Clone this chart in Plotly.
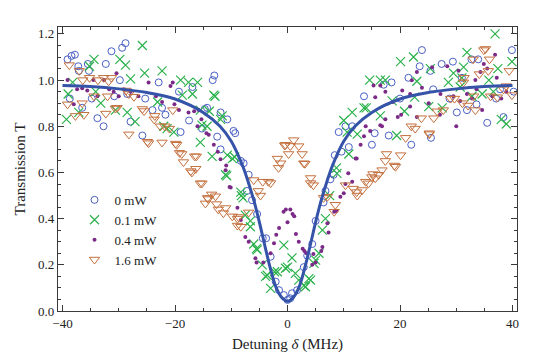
#####################
# REQUIRED MODULES  #
#####################
import plotly.graph_objects as go

#####################
# Global Variables  #
#####################

# (detuning in MHz, transmission)
pts_0mw = [(-39.1, 1.09), (-38.4, 1.105), (-37.8, 1.11), (-37.2, 1.06), (-37.1, 1.04), (-38.7, 0.92),
           (-36.5, 0.88), (-35.5, 1.07), (-35.3, 1.04), (-34.8, 0.92), (-33.8, 0.835), (-32.7, 0.80),
           (-32.3, 1.07), (-31.3, 1.125), (-29.4, 1.14), (-28.8, 1.16), (-30.8, 0.93), (-29.8, 1.0),
           (-28.5, 0.94), (-27.9, 0.82), (-25.8, 0.76), (-25.3, 0.92), (-24.0, 0.87), (-22.9, 0.99),
           (-22.3, 0.88), (-21.7, 0.85), (-19.0, 0.775), (-19.3, 0.95), (-17.5, 0.825), (-16.9, 0.97),
           (-15.2, 0.79), (-14.7, 0.875), (-13.3, 1.0), (-13.0, 1.02), (-14.3, 0.88), (-11.9, 0.86),
           (-10.7, 0.83), (-9.6, 0.78), (-9.3, 0.77), (-11.9, 0.70), (-12.5, 0.755), (-8.3, 0.65),
           (-7.8, 0.64), (-6.9, 0.59), (-7.2, 0.52), (-6.3, 0.48), (-5.4, 0.42), (-4.4, 0.315),
           (-3.8, 0.315), (-3.0, 0.235), (-2.1, 0.127), (-1.5, 0.09), (-0.65, 0.069), (0.0, 0.048),
           (0.5, 0.055), (0.8, 0.077), (1.7, 0.09), (2.9, 0.19), (3.5, 0.24), (4.4, 0.29), (5.0, 0.39),
           (6.4, 0.47), (6.75, 0.52), (7.6, 0.57), (8.2, 0.59), (8.4, 0.675), (9.1, 0.775), (9.6, 0.69),
           (10.3, 0.80), (10.9, 0.71), (11.5, 0.80), (13.6, 0.93), (15.0, 0.72), (15.5, 0.77),
           (18.0, 0.76), (17.1, 0.98), (18.5, 0.99), (21.5, 1.01), (22.0, 0.72), (23.5, 1.06),
           (23.9, 1.13), (20.0, 0.92), (25.4, 1.04), (27.4, 1.07), (29.4, 1.08), (25.9, 0.96),
           (28.8, 0.92), (30.1, 0.86), (25.5, 0.75), (31.0, 1.01), (32.7, 1.09), (33.9, 1.09),
           (31.9, 0.87), (33.6, 0.895), (35.5, 0.815), (37.1, 0.92), (38.4, 0.84), (39.9, 1.13),
           (37.8, 0.96), (40.2, 0.95)]

pts_01mw = [(-39.3, 0.83), (-39.0, 0.94), (-37.1, 0.86), (-38.2, 0.99), (-34.4, 1.09), (-35.2, 1.06),
            (-33.2, 0.90), (-30.6, 0.87), (-34.1, 0.95), (-29.8, 1.09), (-28.8, 1.065), (-27.9, 1.005),
            (-28.5, 0.86), (-27.1, 0.82), (-25.8, 1.15), (-25.4, 1.03), (-22.3, 1.04), (-22.0, 0.80),
            (-21.4, 0.79), (-20.2, 0.775), (-23.1, 0.905), (-19.0, 1.0), (-17.6, 0.99), (-16.0, 0.99),
            (-18.7, 0.935), (-16.9, 0.94), (-15.5, 0.87), (-13.1, 0.935), (-15.5, 0.73), (-15.2, 0.805),
            (-14.3, 0.80), (-13.4, 0.67), (-11.9, 0.83), (-11.6, 0.845), (-10.7, 0.675), (-9.8, 0.66),
            (-11.0, 0.59), (-12.9, 0.93), (-13.9, 0.865), (-9.4, 0.667), (-10.8, 0.585), (-8.3, 0.515),
            (-7.9, 0.49), (-7.5, 0.415), (-6.6, 0.365), (-6.0, 0.29), (-5.4, 0.265), (-4.5, 0.2),
            (-3.9, 0.15), (-3.0, 0.098), (-8.2, 0.50), (-6.6, 0.39), (-5.5, 0.27), (-3.6, 0.155),
            (-2.3, 0.17), (-1.8, 0.17), (-0.65, 0.285), (0.0, 0.19), (0.8, 0.23), (1.4, 0.163),
            (2.0, 0.134), (3.8, 0.14), (3.2, 0.105), (5.6, 0.25), (4.7, 0.206), (6.2, 0.35),
            (6.75, 0.40), (8.7, 0.62), (7.5, 0.50), (-0.35, 0.185), (2.9, 0.11), (4.1, 0.134),
            (5.0, 0.22), (8.8, 0.596), (10.0, 0.825), (11.5, 0.86), (10.6, 0.775), (12.4, 0.766),
            (10.9, 0.68), (13.6, 0.88), (14.0, 0.88), (14.6, 1.0), (16.5, 1.0), (17.4, 1.0),
            (16.5, 0.845), (18.6, 0.91), (19.4, 0.76), (20.1, 1.08), (20.8, 0.865), (22.4, 1.10),
            (23.0, 0.995), (22.6, 0.926), (25.4, 1.05), (25.1, 0.885), (27.5, 0.88), (28.6, 0.99),
            (29.5, 1.03), (31.3, 1.056), (31.9, 1.12), (30.7, 0.97), (31.0, 1.01), (32.8, 0.93),
            (34.6, 0.94), (35.8, 1.0), (36.9, 1.20), (37.4, 1.05), (36.6, 0.95), (38.9, 0.81),
            (39.9, 1.08), (38.0, 0.83)]

pts_04mw = [(-39.1, 1.0), (-38.0, 0.895), (-37.4, 0.96), (-36.5, 0.965), (-35.6, 0.955), (-34.5, 1.0),
            (-33.8, 0.93), (-32.6, 1.0), (-31.7, 0.96), (-30.4, 1.03), (-30.9, 0.95), (-30.0, 0.93),
            (-29.1, 0.96), (-27.9, 0.95), (-26.5, 0.93), (-24.7, 0.99), (-23.4, 0.93), (-22.3, 0.905),
            (-20.8, 0.975), (-20.1, 0.895), (-19.3, 0.87), (-17.6, 0.86), (-16.0, 0.80), (-14.4, 0.77),
            (-20.4, 0.99), (-15.8, 0.87), (-15.3, 0.83), (-14.0, 0.763), (-13.1, 0.72), (-12.4, 0.69),
            (-11.9, 0.657), (-10.9, 0.63), (-10.1, 0.535), (-16.6, 0.865), (-11.0, 0.61), (-10.3, 0.537),
            (-8.9, 0.447), (-8.3, 0.394), (-7.5, 0.32), (-6.9, 0.30), (-5.7, 0.228), (-5.5, 0.21),
            (-4.3, 0.21), (-3.0, 0.25), (-2.4, 0.293), (-2.0, 0.33), (-1.5, 0.36), (-0.7, 0.43),
            (-0.3, 0.44), (0.9, 0.42), (0.5, 0.44), (1.2, 0.41), (0.0, 0.384), (1.5, 0.333), (2.0, 0.30),
            (2.7, 0.27), (3.0, 0.26), (3.4, 0.25), (4.6, 0.247), (4.4, 0.2), (5.0, 0.21), (6.2, 0.277),
            (6.0, 0.26), (7.1, 0.38), (7.3, 0.34), (8.3, 0.43), (8.7, 0.433), (9.4, 0.495), (10.0, 0.51),
            (10.8, 0.597), (11.5, 0.56), (10.3, 0.55), (12.1, 0.66), (12.3, 0.66), (13.0, 0.72),
            (13.6, 0.757), (14.7, 0.78), (16.5, 0.805), (17.4, 0.83), (13.9, 0.80), (15.3, 0.977),
            (15.6, 0.926), (16.5, 0.977), (16.8, 0.80), (17.4, 0.95), (18.7, 0.905), (20.2, 0.85),
            (20.4, 0.955), (21.8, 0.886), (22.1, 0.999), (23.0, 1.035), (23.9, 0.967), (25.1, 0.90),
            (25.7, 1.056), (27.2, 0.94), (28.4, 1.06), (29.5, 0.93), (30.0, 0.80), (30.4, 1.04),
            (30.7, 0.91), (31.9, 0.94), (32.8, 0.92), (33.6, 0.96), (34.9, 1.07), (35.5, 1.05),
            (36.9, 1.11), (37.2, 1.01), (38.9, 0.95), (38.0, 0.92), (36.4, 0.93), (33.4, 1.0),
            (34.3, 1.035), (34.6, 0.87), (27.1, 0.85), (23.0, 0.84), (19.6, 0.84), (21.8, 0.94)]

pts_16mw = [(-38.8, 1.065), (-37.0, 1.04), (-39.1, 0.895), (-37.7, 0.845), (-36.2, 0.85), (-36.5, 0.90),
            (-36.4, 1.0), (-35.2, 1.01), (-33.7, 1.0), (-32.7, 1.01), (-31.8, 0.995), (-31.3, 1.01),
            (-34.4, 0.93), (-32.3, 0.855), (-32.0, 0.93), (-30.6, 0.877), (-30.3, 0.88), (-28.7, 0.955),
            (-28.2, 0.94), (-27.3, 0.928), (-28.2, 0.765), (-25.5, 0.866), (-25.8, 0.875), (-24.7, 0.727),
            (-24.9, 0.733), (-23.7, 0.83), (-23.6, 0.845), (-22.6, 0.80), (-22.3, 0.73), (-21.8, 0.80),
            (-21.0, 0.79), (-20.4, 0.87), (-19.9, 0.725), (-19.7, 0.72), (-19.2, 0.685), (-18.8, 0.68),
            (-18.5, 0.645), (-16.5, 0.67), (-16.2, 0.67), (-16.3, 0.616), (-17.2, 0.606), (-17.0, 0.60),
            (-15.2, 0.553), (-15.5, 0.553), (-14.2, 0.49), (-14.6, 0.466), (-14.1, 0.485), (-13.5, 0.505),
            (-12.8, 0.497), (-12.6, 0.463), (-12.3, 0.44), (-11.4, 0.424), (-11.0, 0.446), (-8.7, 0.407),
            (-8.9, 0.40), (-8.9, 0.37), (-8.3, 0.365), (-9.8, 0.41), (-6.9, 0.427), (-6.0, 0.567),
            (-5.2, 0.52), (-4.4, 0.56), (-4.8, 0.50), (-3.4, 0.56), (-3.0, 0.554), (-1.6, 0.62),
            (-1.2, 0.64), (-1.8, 0.66), (-0.35, 0.72), (-0.5, 0.717), (0.2, 0.68), (0.5, 0.715),
            (1.1, 0.74), (2.0, 0.714), (2.6, 0.68), (2.9, 0.64), (3.1, 0.638), (4.1, 0.576), (4.1, 0.554),
            (4.6, 0.545), (6.4, 0.49), (7.1, 0.495), (8.3, 0.43), (8.5, 0.46), (10.3, 0.545), (11.7, 0.53),
            (12.3, 0.515), (12.4, 0.50), (13.3, 0.524), (13.9, 0.56), (14.4, 0.553), (15.0, 0.58),
            (15.6, 0.575), (16.2, 0.59), (16.8, 0.61), (15.2, 0.593), (19.2, 0.625), (19.0, 0.63),
            (17.4, 0.65), (17.6, 0.68), (20.1, 0.675), (21.0, 0.75), (22.7, 0.79), (22.0, 0.80),
            (25.2, 0.77), (25.2, 0.766), (23.8, 0.835), (26.0, 0.835), (26.6, 0.865), (27.7, 0.87),
            (29.0, 0.92), (29.7, 0.92), (31.1, 0.90), (31.3, 0.99), (31.4, 1.01), (32.1, 0.89),
            (33.0, 1.09), (33.4, 0.87), (34.1, 1.026), (34.9, 1.13), (35.2, 1.135), (35.9, 1.09),
            (35.7, 1.04), (36.1, 0.93), (37.3, 0.926), (38.4, 0.96), (38.9, 0.974), (39.4, 1.04),
            (39.9, 0.935), (33.1, 0.93)]

# fitted curve, sampled off the figure
fit_x = [-40, -35, -30, -25, -20, -15, -12, -10, -8, -7, -6, -5, -4, -3, -2, -1, 0,
         1, 2, 3, 4, 5, 6, 7, 8, 10, 12, 15, 20, 25, 30, 35, 40]
fit_T = [0.977, 0.972, 0.962, 0.946, 0.918, 0.86, 0.80, 0.735, 0.63, 0.56, 0.48, 0.385, 0.28, 0.18,
         0.10, 0.058, 0.042, 0.058, 0.10, 0.18, 0.28, 0.385, 0.48, 0.56, 0.63, 0.735, 0.80, 0.86,
         0.918, 0.946, 0.962, 0.972, 0.977]

series_names = ['0 mW', '0.1 mW', '0.4 mW', '1.6 mW']

SERIF = 'Liberation Serif'
AXIS_COLOR = '#3a3a3a'


def add_points(fig, pts, name, marker):
    '''Add one power series as a scatter of markers.'''
    fig.add_trace(go.Scatter(
        x=[p[0] for p in pts],
        y=[p[1] for p in pts],
        mode='markers',
        name=name,
        marker=marker))


def create_visual():
    fig = go.Figure()

    add_points(fig, pts_0mw, series_names[0],
               dict(symbol='circle-open', size=7, color='#4a5fc4', line=dict(width=1)))
    add_points(fig, pts_01mw, series_names[1],
               dict(symbol='x-thin-open', size=9, color='#2bb24c', line=dict(width=1.2, color='#2bb24c')))
    add_points(fig, pts_04mw, series_names[2],
               dict(symbol='circle', size=4, color='#7b2a88'))
    add_points(fig, pts_16mw, series_names[3],
               dict(symbol='triangle-down-open', size=9, color='#c4703e', line=dict(width=1)))

    # fit line on top
    fig.add_trace(go.Scatter(x=fit_x, y=fit_T, mode='lines', line_shape='spline',
                             line=dict(color='#3553a8', width=3), showlegend=False))

    axis_common = dict(showline=True, linecolor=AXIS_COLOR, linewidth=1.3, mirror='ticks',
                       ticks='inside', ticklen=6, tickwidth=1.2, tickcolor=AXIS_COLOR,
                       showgrid=False, zeroline=False,
                       tickfont=dict(family=SERIF, size=13, color='#222'))

    fig.update_xaxes(range=[-40.8, 40.8], tickvals=[-40, -20, 0, 20, 40],
                     minor=dict(dtick=5, ticks='inside', ticklen=3, tickcolor=AXIS_COLOR, showgrid=False),
                     title=dict(text='Detuning <i>δ</i> (MHz)', standoff=8,
                                font=dict(family=SERIF, size=15, color='#222')),
                     **axis_common)
    fig.update_yaxes(range=[0, 1.23], tickvals=[0, 0.2, 0.4, 0.6, 0.8, 1.0, 1.2], tickformat='.1f',
                     minor=dict(dtick=0.05, ticks='inside', ticklen=3, tickcolor=AXIS_COLOR, showgrid=False),
                     title=dict(text='Transmission T', standoff=8,
                                font=dict(family=SERIF, size=15, color='#222')),
                     **axis_common)

    fig.update_layout(width=540, height=363,
                      margin=dict(l=58, r=23, t=27, b=52),
                      plot_bgcolor='white', paper_bgcolor='white',
                      legend=dict(x=0.036, y=0.444, xanchor='left', yanchor='top',
                                  itemwidth=30, bgcolor='rgba(0,0,0,0)',
                                  font=dict(family=SERIF, size=13, color='#222')))

    # drop the default page margin so the figure sits at the window's corner
    fig.write_html('out.html', config={'displayModeBar': False},
                   post_script="document.body.style.margin='0';document.body.style.overflow='hidden';")


#########
# Main  #
#########
if __name__ == '__main__':
    create_visual()
